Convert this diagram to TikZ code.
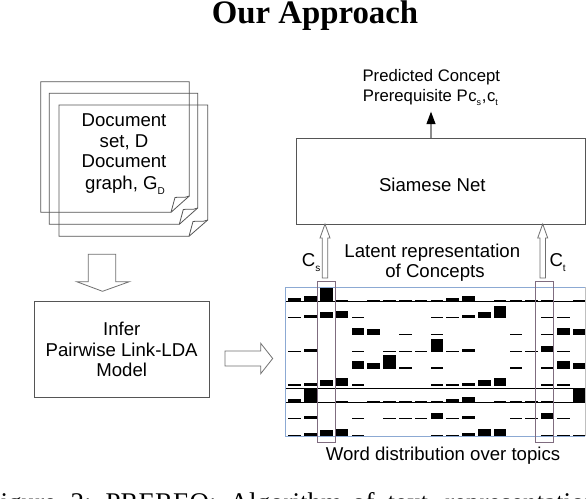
\documentclass[tikz,border=0pt]{standalone}
\usepackage{fontspec}
\setmainfont{Liberation Sans}
\newfontfamily\serifcap{Liberation Serif}
\definecolor{edgegray}{HTML}{555555}
\definecolor{arrowgray}{HTML}{707070}
\definecolor{gridblue}{HTML}{8CA9D3}
\definecolor{markpurple}{HTML}{7F6C7F}
\newcommand{\lowidx}[1]{\raisebox{-5pt}{\fontsize{10}{10}\selectfont #1}}
\newcommand{\lowidxs}[1]{\raisebox{-4pt}{\fontsize{9}{9}\selectfont #1}}
\newcommand{\docpage}[6]{%
  \draw[pageline] (#1,#2) -- (#3,#2) -- (#3,#6) -- (#5,#4) -- (#1,#4) -- cycle;
  \draw[pageline] (#5,#4) -- (#5+4,#6+1.5) .. controls (#5+9,#6+0.5) and (#5+13,#6+2.5) .. (#3,#6);
}
\newcommand{\barrow}[2]{% baseline y, list col/height
  \foreach \c/\h in {#2} {
    \fill[black] ({280+(44+47.4*\c)/3-6.3},#1) rectangle ({280+(44+47.4*\c)/3+6.3},{#1-\h});
  }
}
\tikzset{
  x=1pt,y=-1pt,
  pageline/.style={draw=edgegray,line width=0.8pt},
  boxstyle/.style={draw=edgegray,line width=0.9pt,inner sep=0pt,fill=none},
  hollow/.style={draw=arrowgray,line width=0.8pt,fill=white,line join=miter},
  lab/.style={anchor=base,inner sep=0pt,font=\fontsize{18.6}{21}\selectfont},
  labsmall/.style={anchor=base,inner sep=0pt,font=\fontsize{16.7}{20}\selectfont},
  rowline/.style={draw=black,line width=0.9pt},
  markbox/.style={draw=markpurple,line width=1pt},
}
\begin{document}
\begin{tikzpicture}
\clip (0,0) rectangle (586,498);
\fill[white] (0,0) rectangle (586,498);
% title
\node[anchor=base,inner sep=0pt,font=\serifcap\bfseries\fontsize{32.8}{34}\selectfont] (title) at (315,23) {Our Approach};
% document pages
\docpage{40.7}{81.7}{189.3}{212.3}{171}{196}
\docpage{49.3}{93.3}{197.7}{224.3}{179.3}{208}
\docpage{59}{105}{207.7}{236.3}{189}{220}
\node[lab] (doc1) at (124,126) {Document};
\node[lab] (doc2) at (124,147.3) {set, D};
\node[lab] (doc3) at (124,167.7) {Document};
\node[lab,anchor=base west] (doc4) at (85,189.3) {graph, G\lowidx{D}};
% down arrow
\draw[hollow] (88.3,254.3) -- (115.7,254.3) -- (115.7,281.7) -- (129.3,281.7) -- (102.5,291.3) -- (76.7,281.7) -- (88.3,281.7) -- cycle;
% infer box
\node[boxstyle,minimum width=174.7pt,minimum height=95.3pt] (infer) at (121.65,349.35) {};
\node[lab] (inf1) at (121.7,335) {Infer};
\node[lab] (inf2) at (121.7,356) {Pairwise Link-LDA};
\node[lab] (inf3) at (121.7,376.7) {Model};
% right arrow
\draw[hollow] (225,351) -- (260.7,351) -- (260.7,343.3) -- (272.7,358.5) -- (260.7,373.7) -- (260.7,366) -- (225,366) -- cycle;
% siamese
\node[boxstyle,minimum width=288.7pt,minimum height=85.7pt] (siamese) at (440.65,181.15) {};
\node[lab] (siamtext) at (432.3,191.7) {Siamese Net};
% prediction
\node[labsmall] (pred1) at (431.3,81.7) {Predicted Concept};
\node[labsmall,anchor=base west] (pred2) at (362.7,101.7) {Prerequisite P\kern0.6pt c\lowidxs{s}\kern0.6pt,\kern0.6pt c\lowidxs{t}};
\coordinate (predtip) at (431,111.7);
\draw[draw=arrowgray!80,line width=1.5pt] (siamese.north -| predtip) -- (431,122);
\fill[black] (predtip) -- (435.6,124) -- (426.4,124) -- cycle;
% hollow up arrows
\draw[hollow] (322.3,278) -- (322.3,238) -- (320,238) -- (325,224) -- (330,238) -- (327.7,238) -- (327.7,278) -- cycle;
\draw[hollow] (540,278) -- (540,238) -- (537.7,238) -- (542.7,224) -- (547.7,238) -- (545.4,238) -- (545.4,278) -- cycle;
\node[lab,anchor=base west] (cs) at (301.7,266) {C\lowidx{s}};
\node[lab,anchor=base west] (ct) at (549.3,266) {C\lowidx{t}};
\node[lab] (lat1) at (432.3,257.3) {Latent representation};
\node[lab] (lat2) at (435,277.3) {of Concepts};
% bars
\barrow{301}{0/3,1/5,2/13,3/1,5/1,6/1,7/1,8/1,9/1,10/3,11/5,13/1,14/1,15/1,16/1,18/1,19/1}
\barrow{318}{0/1,1/3,2/6,3/7,4/1,9/1,10/1,11/3,12/6,13/12,16/1,17/1}
\barrow{334.5}{4/7,5/6,7/1,9/1,14/1,16/1,17/7,18/6}
\barrow{351.8}{0/1,1/3,4/1,6/1,7/1,8/1,9/13,10/1,11/3,14/1,15/1,16/6,17/1,19/1}
\barrow{369}{4/8,5/6,6/14,7/2,9/2,14/2,16/2,17/8,18/6}
\barrow{386}{0/2,1/3,2/6,3/8,4/2,9/2,10/2,11/3,12/6,13/8,16/2,17/2}
\barrow{402}{0/3,1/13,3/1,5/1,6/1,7/1,8/1,9/1,10/3,11/5,13/1,14/1,15/1,16/1,18/13}
\barrow{419}{0/1,1/3,4/1,6/1,7/1,8/1,9/6,10/1,11/3,14/1,15/1,16/6,17/1,19/1}
\barrow{436}{0/1,1/3,2/6,3/7,4/1,9/1,10/1,11/3,12/7,13/7,16/1,17/1,18/1}
% rule lines
\draw[rowline] (286,301.3) -- (586,301.3);
\draw[rowline] (286,388.3) -- (586,388.3);
\draw[rowline] (286,402.3) -- (586,402.3);
% grid frame
\draw[draw=gridblue,line width=0.9pt] (585.3,436) -- (285.7,436) -- (285.7,287.4) -- (585.3,287.4);
\draw[draw=lightgray,line width=0.9pt] (585.3,287.4) -- (585.3,436);
% concept markers
\draw[markbox] (317.3,281) rectangle (335.3,442.3);
\draw[markbox] (535.3,281) rectangle (553.3,442.3);
\node[lab] (wordtopics) at (443,460) {Word distribution over topics};
% caption (cut off by the page edge)
\node[anchor=base west,inner sep=0pt,font=\serifcap\fontsize{27}{30}\selectfont] (caption) at (0.5,511) {igure\hspace{14.5pt}2:\hspace{14pt}PREREQ:\hspace{13pt}Algorithm\hspace{10pt}of\hspace{13pt}text\hspace{17pt}representation};
\end{tikzpicture}
\end{document}
